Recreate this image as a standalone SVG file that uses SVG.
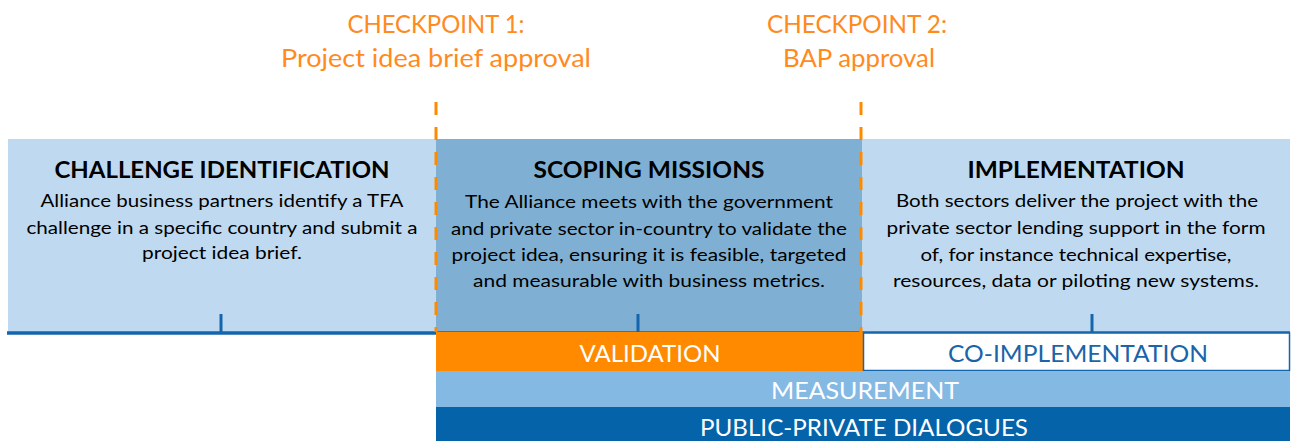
<svg xmlns="http://www.w3.org/2000/svg" width="1295" height="441" viewBox="0 0 1295 441">
<style>
.cp{font-family:Lato,"Open Sans","Liberation Sans",sans-serif;font-size:25px;fill:#FF8A1E;text-anchor:middle}
.hd{font-family:Lato,"Open Sans","Liberation Sans",sans-serif;font-size:22px;font-weight:bold;fill:#000;text-anchor:middle}
.bd{font-family:Lato,"Open Sans","Liberation Sans",sans-serif;font-size:17px;fill:#000;text-anchor:middle}
.bar{font-family:Lato,"Open Sans","Liberation Sans",sans-serif;font-size:23px;text-anchor:middle}
.tick{stroke:#1565AC;stroke-width:3}
.dash{stroke:#FF8A00;stroke-width:3;stroke-dasharray:13 12;fill:none}
</style>
<rect width="1295" height="441" fill="#fff"/>

<g id="checkpoint1">
<text class="cp" x="436" y="33" textLength="177" lengthAdjust="spacingAndGlyphs">CHECKPOINT 1:</text>
<text class="cp" x="436" y="67" textLength="310" lengthAdjust="spacingAndGlyphs">Project idea brief approval</text>
</g>
<g id="checkpoint2">
<text class="cp" x="857" y="33" textLength="180" lengthAdjust="spacingAndGlyphs">CHECKPOINT 2:</text>
<text class="cp" x="859" y="67" textLength="152" lengthAdjust="spacingAndGlyphs">BAP approval</text>
</g>

<g id="challenge">
<rect x="8" y="139" width="428" height="193" fill="#BFDAF0"/>
<text class="hd" x="222" y="178" textLength="335" lengthAdjust="spacingAndGlyphs">CHALLENGE IDENTIFICATION</text>
<text class="bd" x="222" y="207" textLength="363" lengthAdjust="spacingAndGlyphs">Alliance business partners identify a TFA</text>
<text class="bd" x="222" y="234" textLength="391" lengthAdjust="spacingAndGlyphs">challenge in a specific country and submit a</text>
<text class="bd" x="222" y="259" textLength="160" lengthAdjust="spacingAndGlyphs">project idea brief.</text>
</g>

<g id="scoping">
<rect x="436" y="139" width="426" height="193" fill="#7FB0D4"/>
<text class="hd" x="649" y="178" textLength="231" lengthAdjust="spacingAndGlyphs">SCOPING MISSIONS</text>
<text class="bd" x="649" y="208" textLength="368" lengthAdjust="spacingAndGlyphs">The Alliance meets with the government</text>
<text class="bd" x="649" y="234.5" textLength="396" lengthAdjust="spacingAndGlyphs">and private sector in-country to validate the</text>
<text class="bd" x="649" y="261" textLength="395" lengthAdjust="spacingAndGlyphs">project idea, ensuring it is feasible, targeted</text>
<text class="bd" x="649" y="287" textLength="352" lengthAdjust="spacingAndGlyphs">and measurable with business metrics.</text>
</g>

<g id="implementation">
<rect x="862" y="139" width="428" height="193" fill="#BFDAF0"/>
<text class="hd" x="1076" y="178" textLength="217" lengthAdjust="spacingAndGlyphs">IMPLEMENTATION</text>
<text class="bd" x="1077" y="207" textLength="362" lengthAdjust="spacingAndGlyphs">Both sectors deliver the project with the</text>
<text class="bd" x="1076" y="234" textLength="379" lengthAdjust="spacingAndGlyphs">private sector lending support in the form</text>
<text class="bd" x="1076" y="261" textLength="311" lengthAdjust="spacingAndGlyphs">of, for instance technical expertise,</text>
<text class="bd" x="1076" y="287" textLength="366" lengthAdjust="spacingAndGlyphs">resources, data or piloting new systems.</text>
</g>

<g id="connectors">
<line x1="7" y1="333" x2="1290" y2="333" stroke="#1565AC" stroke-width="3.5"/>
<line class="tick" x1="221" y1="314" x2="221" y2="332"/>
<line class="tick" x1="638" y1="314" x2="638" y2="332"/>
<line class="tick" x1="1092" y1="314" x2="1092" y2="332"/>
<line class="dash" x1="436" y1="102" x2="436" y2="332"/>
<line class="dash" x1="861" y1="102" x2="861" y2="332"/>
</g>

<g id="validation">
<rect x="436" y="332" width="427" height="39" fill="#FF8A00"/>
<text class="bar" x="650" y="362" fill="#fff" textLength="141" lengthAdjust="spacingAndGlyphs">VALIDATION</text>
</g>
<g id="co-implementation">
<rect x="863.5" y="333" width="426" height="37.5" fill="#fff" stroke="#1565AC" stroke-width="1.5"/>
<text class="bar" x="1078" y="362" fill="#1B64A8" textLength="260" lengthAdjust="spacingAndGlyphs">CO-IMPLEMENTATION</text>
</g>
<g id="measurement">
<rect x="436" y="371" width="854" height="36" fill="#84B9E4"/>
<text class="bar" x="865" y="399" fill="#fff" textLength="188" lengthAdjust="spacingAndGlyphs">MEASUREMENT</text>
</g>
<g id="dialogues">
<rect x="436" y="407" width="854" height="34" fill="#0563AA"/>
<text class="bar" x="864" y="436" fill="#fff" textLength="328" lengthAdjust="spacingAndGlyphs">PUBLIC-PRIVATE DIALOGUES</text>
</g>
</svg>
